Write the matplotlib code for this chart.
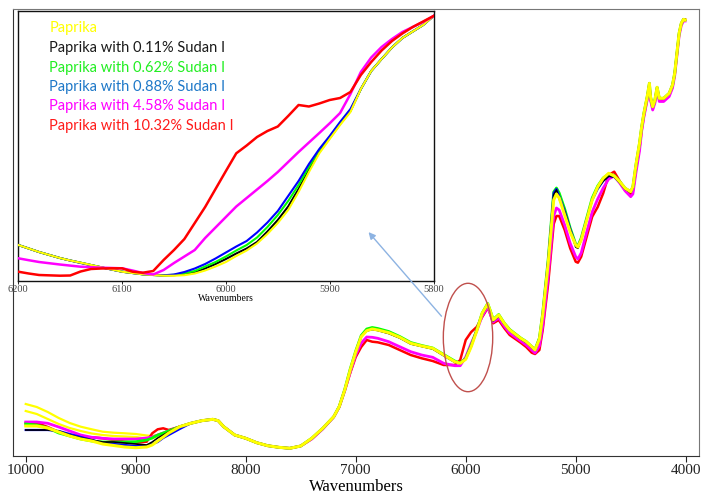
import matplotlib
matplotlib.use("Agg")
import matplotlib.pyplot as plt
from matplotlib.patches import Ellipse, FancyArrowPatch

# ---------------- data (absorbance, arbitrary units) ----------------
wn_main = [10000, 9900, 9800, 9700, 9600, 9500, 9400, 9300, 9200, 9100,
           9000, 8900, 8850, 8800, 8750, 8700, 8600, 8500, 8400, 8300,
           8250, 8200, 8100, 8000, 7900, 7800, 7700, 7600, 7500, 7400,
           7300, 7200, 7150, 7100, 7050, 7000, 6950, 6900, 6850, 6800,
           6700, 6600, 6500, 6400, 6300, 6200, 6100, 6050, 6000, 5950,
           5900, 5850, 5800, 5780, 5750, 5700, 5650, 5600, 5500, 5450,
           5400, 5370, 5330, 5300, 5250, 5200, 5175, 5150, 5100, 5050,
           5000, 4980, 4950, 4900, 4850, 4800, 4750, 4700, 4650, 4600,
           4550, 4500, 4480, 4450, 4420, 4400, 4380, 4350, 4330, 4320,
           4300, 4280, 4260, 4240, 4200, 4150, 4120, 4100, 4080, 4060,
           4040, 4020, 4005]

paprika = [30, 30, 28, 24, 20, 17, 15, 12, 10.5, 9,
           8.3, 9, 11, 15, 19, 23, 29.3, 32.7, 35.3, 36.7,
           35.3, 29.3, 21, 17.7, 13.3, 10.3, 8.7, 7.7, 10, 17.7,
           27.7, 39.3, 49.3, 66, 86, 104, 119.3, 125.3, 127, 126,
           123.3, 118.7, 112.7, 110, 107.7, 101, 94.3, 92.7, 96.7, 109.3,
           125, 142.7, 152, 146, 136, 141, 132.7, 126, 117.7, 114.3,
           109.3, 106, 117, 141, 193, 256, 262, 258, 241, 224,
           211, 209, 216, 236, 256, 269, 277.7, 282.7, 280, 274.3,
           267.7, 264.3, 269.3, 292.7, 312.7, 329.3, 342.7, 359.3, 372.7, 359.3,
           349.3, 356, 368.7, 357.7, 357.7, 362.7, 371, 382.7, 402.7, 422.7,
           432.7, 436.7, 436]

sudan_011 = [26, 26, 26, 25, 21, 18, 16, 14, 14, 13,
             12, 11, 14, 18, 21, 24, 29.3, 32.7, 35.3, 36.7,
             35.3, 29.3, 21, 17.7, 13.3, 10.3, 8.7, 7.7, 10, 17.7,
             27.7, 39.3, 49.3, 66, 86, 104, 119.3, 125, 126.5, 125.5,
             122.5, 118, 112, 109.5, 107, 100.5, 94, 92.5, 97, 110,
             125.5, 142, 151, 145, 135, 140, 132, 125.5, 117, 113.5,
             108.5, 105.5, 117, 142, 196, 261, 266, 257, 244, 226,
             209, 207.7, 216, 236.5, 256.5, 268, 275, 280, 279, 273.5,
             267, 263.5, 268.5, 292, 312, 329, 342.7, 359.3, 372.7, 359.3,
             349.3, 356, 368.7, 357.7, 357.7, 362.7, 371, 382.7, 402.7, 422.7,
             432.7, 436.7, 436]

sudan_062 = [32, 31, 28, 23, 20, 17, 15, 14, 14, 14,
             14.3, 16, 18, 21, 23, 25, 29.3, 32.7, 35.3, 36.7,
             35.3, 29.3, 21, 17.7, 13.3, 10.3, 8.7, 7.7, 10, 17.7,
             27.7, 39.3, 49.5, 66.5, 87, 105, 120.5, 127, 128.5, 127.5,
             124.5, 119.5, 113.5, 110.5, 108, 101.5, 95, 93, 97.5, 110.5,
             126, 143, 152.5, 146.5, 136.5, 141.5, 133, 126.5, 118, 114.5,
             109.5, 106.5, 118, 143, 197, 264, 268, 263, 247, 228,
             212, 210, 218, 238, 258, 270, 278, 282, 280.5, 274.5,
             267.7, 264.3, 269.3, 292.7, 312.7, 329.3, 342.7, 359.3, 372.7, 359.3,
             349.3, 356, 368.7, 357.7, 357.7, 362.7, 371, 382.7, 402.7, 422.7,
             432.7, 436.7, 436]

sudan_088 = [26, 26, 26, 25, 22, 19, 16, 13, 12, 11,
             10, 10, 12, 14, 18, 21, 27, 32.7, 35.3, 36.7,
             35.3, 29.3, 21, 17.7, 13.3, 10.3, 8.7, 7.7, 10, 17.7,
             27.7, 39.3, 49.3, 66, 86, 104, 119.5, 125.5, 127, 126,
             123, 118.5, 112.5, 110, 107.5, 100.5, 94, 92.5, 97.5, 110.5,
             126, 142.5, 151.5, 145.5, 135.5, 140.5, 132.5, 126, 117.5, 114,
             109, 106, 117.5, 142.5, 196, 263, 267, 260, 245, 227,
             211, 209, 217, 237, 256, 267, 275, 280, 279, 273.5,
             267.5, 264, 269, 292.5, 312.5, 329.3, 342.7, 359.3, 372.7, 359.3,
             349.3, 356, 368.7, 357.7, 357.7, 362.7, 371, 382.7, 402.7, 422.7,
             432.7, 436.7, 436]

sudan_458 = [34, 34, 32.7, 29, 25, 21, 18.7, 17.7, 17, 17,
             17, 18, 19, 21, 23, 25, 29.3, 32.7, 35.3, 36.7,
             35.3, 29.3, 21, 17.7, 13.3, 10.3, 8.7, 7.7, 10, 17,
             27, 39, 49, 65.5, 84, 101, 113, 119, 118.7, 117.7,
             114.3, 109.3, 104.3, 101, 98.7, 92.7, 90.3, 90.3, 99, 112.7,
             125, 140, 149, 143, 134, 138, 130, 123, 115, 111,
             106, 103, 110, 130, 180, 240, 248, 246, 231, 212.7,
             199.3, 197, 203, 224, 244, 257, 268, 277, 280, 273,
             265, 259.3, 262, 285, 305, 325, 339, 356, 369.5, 356,
             346, 353, 365.5, 354.5, 354.5, 359.5, 368, 380, 400, 420,
             430.5, 435, 435]

sudan_1032 = [33, 33, 29, 24, 21, 19, 18.7, 17.7, 16, 14.3,
              13.3, 14.3, 22.7, 26.7, 27.7, 26, 29.3, 32.7, 35.3, 36.7,
              35.3, 29.3, 21, 17.7, 13.3, 10.3, 8.7, 7.7, 10, 17,
              27, 39, 49, 65, 83, 99, 109, 116, 114.3, 113.7,
              111, 106, 101, 97.7, 95, 91, 91, 96, 116, 124,
              129, 139, 148, 143, 132.7, 136, 128, 121, 113.3, 109,
              103.3, 102, 106, 126, 172.7, 232, 240, 240, 226, 207.7,
              194.3, 193.3, 199.3, 219.3, 239.3, 249, 262.7, 281, 284.3, 275,
              266, 262, 265, 288, 308, 326, 340, 357, 370.5, 357,
              347.5, 354.5, 367, 356, 356, 361, 369.5, 381.5, 401.5, 421.5,
              432, 436.5, 436.5]

# extra paprika replicates (high-wavenumber region only)
rep_wn = [10000, 9900, 9800, 9700, 9600, 9500, 9400, 9300, 9200, 9100,
          9000, 8900, 8850, 8800, 8750, 8700, 8600]
paprika_rep1 = [52, 49, 44, 38, 33, 29.3, 26.7, 24.3, 23.3, 22.7,
                22, 20.5, 20, 21, 23, 25, 29.3]
paprika_rep2 = [45, 42, 37, 32, 28, 25, 22.5, 21, 20, 19.5,
                19, 17.5, 17.7, 20, 22.7, 24.3, 29.3]

# inset (6200-5800 cm-1)
wn_inset = [6200, 6190, 6180, 6160, 6150, 6140, 6130, 6120, 6110, 6100,
            6090, 6080, 6070, 6060, 6050, 6040, 6030, 6020, 6010, 6000,
            5990, 5980, 5970, 5960, 5950, 5940, 5930, 5920, 5910, 5900,
            5890, 5880, 5870, 5860, 5850, 5840, 5830, 5820, 5810, 5800]
ins_paprika = [36, 32.5, 29, 23, 20.5, 18.3, 16, 13.7, 11.5, 9.3,
               8, 6.7, 6, 5.3, 5.3, 5.8, 7.5, 10.5, 14.5, 19,
               25, 30.5, 37.5, 47, 58, 71, 89, 109, 127.7, 142,
               156, 169, 192, 210, 222, 233.5, 243, 249.5, 256, 265]
ins_011 = [36, 32.5, 29, 23, 20.5, 18.3, 16, 13.7, 11.5, 9.3,
           8, 6.7, 6, 5.5, 5.8, 6.8, 8.5, 12.5, 17, 22,
           27.5, 32.5, 39, 49.5, 61, 74.5, 92, 111, 129, 143,
           157, 170, 192, 210, 222, 233.5, 243, 249.5, 256, 265]
ins_062 = [36, 32.5, 29, 23, 20.5, 18.3, 16, 13.7, 11.5, 9.3,
           8, 6.7, 6, 5.6, 6.2, 7.8, 10, 14.5, 19, 24.5,
           30.5, 36, 43.5, 54, 66, 80, 96, 114, 131, 144,
           158, 171, 192, 210, 222, 233.5, 243, 249.5, 256, 265]
ins_088 = [36, 32.5, 29, 23, 20.5, 18, 15.8, 13.5, 11.4, 9.3,
           8, 6.7, 6.1, 5.7, 6.5, 9, 12.5, 17, 22.5, 28.5,
           34.5, 40, 48.5, 58.5, 70, 85, 100, 117, 132, 145,
           159, 172, 192, 210, 222, 233.5, 243, 249.5, 256, 265]
ins_458 = [22.7, 20.8, 19, 16.5, 15.4, 14.3, 13.8, 13.3, 13, 12.7,
           10.5, 8, 6.5, 11, 18, 24.5, 31, 43, 53.5, 64,
           74.5, 83, 91.5, 100, 109, 119, 129, 138.5, 148, 157.7,
           168, 187, 209, 223.5, 234, 242, 249, 254, 259, 265]
ins_1032 = [9.3, 7.5, 6, 5.3, 5.5, 9.5, 12, 12.5, 12.7, 12.7,
            9.3, 8.3, 10, 21, 31, 42, 58, 74, 92, 110,
            127.7, 135.5, 144, 150, 154.5, 165, 176, 174.5, 177.5, 181,
            183, 189, 206, 219, 230.5, 240, 247.5, 254, 259.5, 265]

labels = ["Paprika",
          "Paprika with 0.11% Sudan I",
          "Paprika with 0.62% Sudan I",
          "Paprika with 0.88% Sudan I",
          "Paprika with 4.58% Sudan I",
          "Paprika with 10.32% Sudan I"]
line_colors = ["#FFFF00", "#000000", "#00FF00", "#0000FF", "#FF00FF", "#FF0000"]
text_colors = ["#FFFF00", "#1A1A1A", "#22EE22", "#1E78C8", "#FF00FF", "#FF1A1A"]
main_x_ticks = [10000, 9000, 8000, 7000, 6000, 5000, 4000]
inset_x_ticks = [6200, 6100, 6000, 5900, 5800]

main_series = [paprika, sudan_011, sudan_062, sudan_088, sudan_458, sudan_1032]
inset_series = [ins_paprika, ins_011, ins_062, ins_088, ins_458, ins_1032]

# ---------------- figure ----------------
W, H = 701, 495
fig = plt.figure(figsize=(W / 100, H / 100), dpi=100)
serif = "Liberation Serif"

def fx(px):
    return px / W

def fy(py):
    return 1 - py / H

ax = fig.add_axes([fx(13.3), fy(456), fx(699) - fx(13.3), fy(9) - fy(456)])
main_order = [5, 4, 2, 3, 1, 0]
main_widths = {0: 2.2, 1: 1.2, 2: 2.0, 3: 1.6, 4: 2.0, 5: 1.8}
ax.plot(rep_wn, paprika_rep1, color=line_colors[0], lw=1.6, zorder=2)
ax.plot(rep_wn, paprika_rep2, color=line_colors[0], lw=1.6, zorder=2)
for z, i in enumerate(main_order):
    ax.plot(wn_main, main_series[i], color=line_colors[i], lw=main_widths[i], zorder=3 + z)

ax.set_xlim(10113, 3879)
ax.set_ylim(0, 447)
ax.set_yticks([])
ax.set_xticks(main_x_ticks)
ax.set_xticklabels([str(t) for t in main_x_ticks], fontfamily=serif, fontsize=11)
ax.tick_params(axis="x", length=4, width=0.8, pad=2, colors="#222222")
ax.set_xlabel("Wavenumbers", fontfamily=serif, fontsize=12, labelpad=1)
for s in ["left", "bottom"]:
    ax.spines[s].set_color("#333333")
for s in ["top", "right"]:
    ax.spines[s].set_color("#777777")

ell = Ellipse((5979, 118.5), width=449, height=108.4, fill=False,
              edgecolor="#C0504D", lw=1.0, zorder=20)
ax.add_patch(ell)

# inset
axin = fig.add_axes([fx(18.3), fy(281), fx(433.5) - fx(18.3), fy(11) - fy(281)])
inset_order = [1, 2, 3, 0, 4, 5]
for z, i in enumerate(inset_order):
    axin.plot(wn_inset, inset_series[i], color=line_colors[i],
              lw=1.8 if i in (4, 5) else 1.5, zorder=3 + z)
axin.set_xlim(6200, 5800)
axin.set_ylim(0, 270)
axin.set_yticks([])
axin.set_xticks(inset_x_ticks)
axin.set_xticklabels([str(t) for t in inset_x_ticks], fontfamily=serif,
                     fontsize=7.5, color="#444444")
axin.tick_params(axis="x", length=2, width=0.6, pad=1)
axin.set_xlabel("Wavenumbers", fontfamily=serif, fontsize=7, labelpad=0)
for s in axin.spines.values():
    s.set_color("#111111")
    s.set_linewidth(1.0)

legend_y = [28.3, 48.0, 67.7, 87.3, 106.3, 125.7]
for lab, col, yy in zip(labels, text_colors, legend_y):
    fig.text(fx(49.3), fy(yy), lab, color=col, fontsize=10.5,
             fontfamily="Lato", ha="left", va="center")

arrow = FancyArrowPatch(posA=(fx(443.3), fy(318.3)), posB=(fx(366.7), fy(230)),
                        transform=fig.transFigure, arrowstyle="-|>",
                        mutation_scale=10, color="#8DB3E2", lw=1.0)
arrow.set_zorder(10)
fig.add_artist(arrow)

fig.savefig("out.png", dpi=100)
